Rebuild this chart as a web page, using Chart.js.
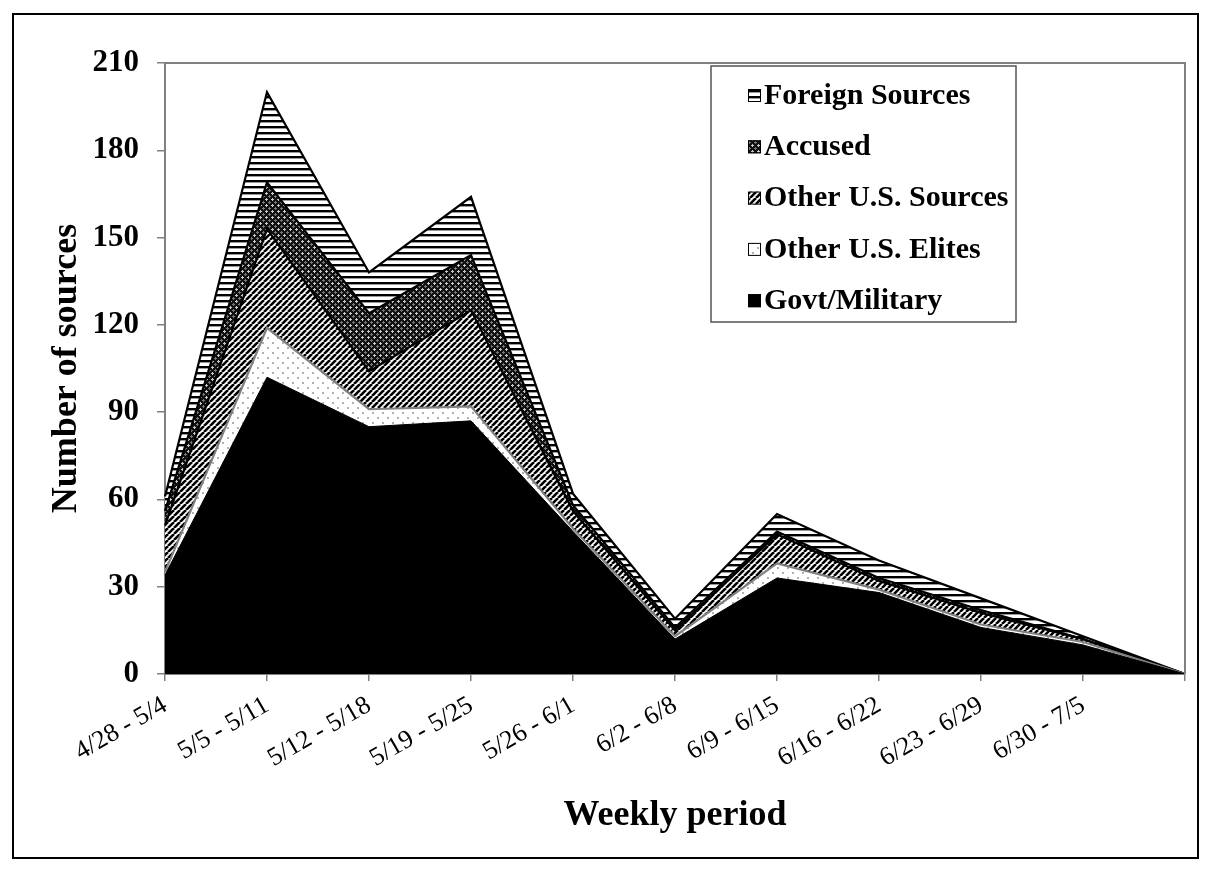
<!DOCTYPE html>
<html><head><meta charset="utf-8">
<script src="https://cdn.jsdelivr.net/npm/chart.js@4.4.0/dist/chart.umd.min.js"></script>
<style>html,body{margin:0;padding:0;background:#fff;}#wrap{width:1212px;height:869px;}</style>
</head><body><div id="wrap"><canvas id="c" width="1212" height="869"></canvas></div>
<script>
// ---- data ----
const weeks = ['4/28 - 5/4','5/5 - 5/11','5/12 - 5/18','5/19 - 5/25','5/26 - 6/1','6/2 - 6/8','6/9 - 6/15','6/16 - 6/22','6/23 - 6/29','6/30 - 7/5',''];
const govtMilitary   = [34,102,85,87,49,12,33,28,16,10,0];
const otherUSElites  = [1,17,6,5,1,1,5,1,1,1,0];
const otherUSSources = [16,34,13,33,6,2,10,3,4,1,0];
const accused        = [5,16,20,19,2,1,1,1,1,0,0];
const foreignSources = [5,31,14,20,4,3,6,6,4,1,0];
const yTicks = [0,30,60,90,120,150,180,210];
const seriesNames = ['Govt/Military','Other U.S. Elites','Other U.S. Sources','Accused','Foreign Sources'];

const SERIF = '"Liberation Serif","Times New Roman",serif';
const canvas = document.getElementById('c');
const mainCtx = canvas.getContext('2d');
function mkPattern(w,h,draw){
  const c=document.createElement('canvas'); c.width=w; c.height=h;
  const g=c.getContext('2d'); draw(g,w,h);
  return mainCtx.createPattern(c,'repeat');
}
const patForeign = mkPattern(6,6,(g)=>{g.fillStyle='#fff';g.fillRect(0,0,6,6);g.fillStyle='#000';g.fillRect(0,0,6,2);g.fillStyle='#999';g.fillRect(0,2,6,1);});
const patAccused = mkPattern(6,6,(g)=>{g.fillStyle='#111';g.fillRect(0,0,6,6);g.fillStyle='#c8c8c8';
  g.fillRect(2,0,1,1);g.fillRect(1,1,3,1);g.fillRect(2,2,1,1);g.fillStyle='#777';g.fillRect(5,3,1,1);g.fillRect(4,4,2,1);g.fillRect(0,4,1,1);g.fillRect(5,5,1,1);});
const patOtherUS = mkPattern(6,6,(g)=>{g.fillStyle='#fff';g.fillRect(0,0,6,6);g.strokeStyle='#000';g.lineWidth=2.6;
  for(const k of [-6,0,6]){g.beginPath();g.moveTo(k,6);g.lineTo(k+6,0);g.stroke();}});
const patElites = mkPattern(10,10,(g)=>{g.fillStyle='#fff';g.fillRect(0,0,10,10);g.fillStyle='#b0b0b0';g.fillRect(2,2,2,2);g.fillRect(7,7,2,2);});

const fills = [ '#000', patElites, patOtherUS, patAccused, patForeign ];
const borders = [ '#000', '#808080', '#000', '#000', '#000' ];
const values = [govtMilitary, otherUSElites, otherUSSources, accused, foreignSources];

const datasets = values.map((v,i)=>({
  label: seriesNames[i], data: v,
  backgroundColor: fills[i], borderColor: borders[i], borderWidth: i===0?1:2.2,
  fill: i===0?'origin':'-1', pointRadius:0, tension:0
}));

const framePlugin = {
  id:'frame',
  afterDraw(chart){
    const ctx=chart.ctx, a=chart.chartArea;
    ctx.save();
    ctx.strokeStyle='#808080'; ctx.lineWidth=2;
    ctx.beginPath(); ctx.moveTo(a.left,a.top); ctx.lineTo(a.right,a.top); ctx.lineTo(a.right,a.bottom); ctx.stroke();
    ctx.strokeStyle='#000'; ctx.lineWidth=2;
    ctx.strokeRect(13,14,1185,844);
    const lx=711, ly=66, lw=305, lh=256;
    ctx.fillStyle='#fff'; ctx.fillRect(lx,ly,lw,lh);
    ctx.strokeStyle='#555'; ctx.lineWidth=1.5; ctx.strokeRect(lx,ly,lw,lh);
    ctx.font='bold 30px '+SERIF; ctx.textBaseline='middle'; ctx.textAlign='left';
    const ds=chart.data.datasets;
    for(let r=0;r<ds.length;r++){
      const d=ds[ds.length-1-r];
      const cy=ly+29+r*51.3;
      ctx.fillStyle=d.backgroundColor; ctx.fillRect(748,cy-6,13,13);
      ctx.strokeStyle='#000'; ctx.lineWidth=1; ctx.strokeRect(748.5,cy-5.5,12,12);
      ctx.fillStyle='#000'; ctx.fillText(d.label,764,cy+1);
    }
    ctx.restore();
  }
};

new Chart(canvas,{
  type:'line',
  data:{labels:weeks, datasets},
  options:{
    responsive:false, animation:false, devicePixelRatio:1,
    layout:{padding:{top:63,right:27,left:0,bottom:0}},
    plugins:{legend:{display:false}, tooltip:{enabled:false}},
    scales:{
      x:{
        type:'category', offset:false,
        grid:{drawOnChartArea:false, drawTicks:true, tickLength:7, color:'#808080', lineWidth:1.5},
        border:{display:true, color:'#808080', width:2},
        ticks:{autoSkip:false, maxRotation:30, minRotation:30, color:'#000', padding:9, font:{family:SERIF, size:26}},
        title:{display:true, text:'Weekly period', color:'#000', font:{family:SERIF, size:36, weight:'bold'}, padding:{top:0,bottom:32}},
        afterFit(s){ s.height = 195; s.paddingLeft = 0; s.paddingRight = 0; }
      },
      y:{
        stacked:true, min:0, max:210,
        afterBuildTicks(s){ s.ticks = yTicks.map(v=>({value:v})); },
        grid:{drawOnChartArea:false, tickLength:8, color:'#808080', lineWidth:1.5},
        border:{display:true, color:'#808080', width:2},
        ticks:{color:'#000', padding:18, font:{family:SERIF, size:31, weight:'bold'}},
        title:{display:true, text:'Number of sources', color:'#000', font:{family:SERIF, size:36, weight:'bold'}, padding:{top:45,bottom:0}},
        afterFit(s){ s.width = 165; s.paddingTop = 0; s.paddingBottom = 0; }
      }
    }
  },
  plugins:[framePlugin]
});
</script></body></html>
